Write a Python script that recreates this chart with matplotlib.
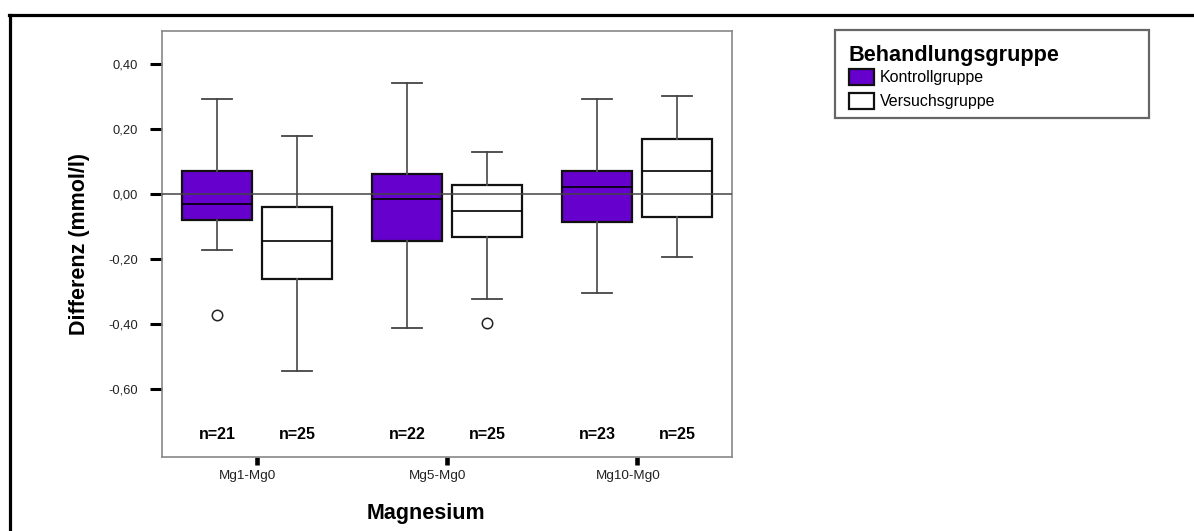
import numpy as np
import matplotlib
matplotlib.use('Agg')
import matplotlib.pyplot as plt
import matplotlib.transforms as mtransforms
from matplotlib.patches import Patch, Rectangle
from matplotlib.lines import Line2D

plt.rcParams['font.family'] = ['Liberation Sans', 'DejaVu Sans']

groups = ['Mg1-Mg0', 'Mg5-Mg0', 'Mg10-Mg0']
series = ['Kontrollgruppe', 'Versuchsgruppe']

# Kontrollgruppe
k_whishi = [0.29, 0.34, 0.29]
k_q3 = [0.069, 0.059, 0.070]
k_med = [-0.033, -0.018, 0.019]
k_q1 = [-0.082, -0.146, -0.088]
k_whislo = [-0.174, -0.414, -0.305]
k_fliers = [[-0.373], [], []]
k_n = [21, 22, 23]

# Versuchsgruppe
v_whishi = [0.177, 0.128, 0.30]
v_q3 = [-0.041, 0.027, 0.167]
v_med = [-0.146, -0.055, 0.069]
v_q1 = [-0.264, -0.132, -0.072]
v_whislo = [-0.546, -0.323, -0.196]
v_fliers = [[], [-0.397], []]
v_n = [25, 25, 25]

yticks = [-0.6, -0.4, -0.2, 0.0, 0.2, 0.4]

purple = '#6600cc'
W, H = 1194, 531
fig = plt.figure(figsize=(W/100, H/100), dpi=100)
ax = fig.add_axes([162/W, 1-457/H, 570/W, 426/H])

def stats(whishi, q3, med, q1, whislo, fliers):
    out = []
    for i in range(len(med)):
        out.append(dict(whishi=whishi[i], q3=q3[i], med=med[i], q1=q1[i],
                        whislo=whislo[i], fliers=fliers[i]))
    return out

x = np.arange(1, len(groups) + 1)
off = 0.21
bw = 0.368
common = dict(widths=bw, patch_artist=True, showfliers=True, capwidths=0.158,
              medianprops=dict(color='black', lw=1.2),
              whiskerprops=dict(color='#555555', lw=1.3),
              capprops=dict(color='#444444', lw=1.3),
              flierprops=dict(marker='o', markerfacecolor='none',
                              markeredgecolor='#222222', markersize=7.5, mew=1.1))

ax.bxp(stats(k_whishi, k_q3, k_med, k_q1, k_whislo, k_fliers), positions=x - off,
       boxprops=dict(facecolor=purple, edgecolor='#111111', lw=1.6), **common)
ax.bxp(stats(v_whishi, v_q3, v_med, v_q1, v_whislo, v_fliers), positions=x + off,
       boxprops=dict(facecolor='white', edgecolor='#111111', lw=1.6), **common)

ax.axhline(0, color='#444444', lw=1.1, zorder=5)

trans = ax.get_xaxis_transform()
for i in range(len(groups)):
    ax.text(x[i] - off, 0.053, 'n=%d' % k_n[i], transform=trans, ha='center', va='center',
            fontsize=11.5, fontweight='bold')
    ax.text(x[i] + off, 0.053, 'n=%d' % v_n[i], transform=trans, ha='center', va='center',
            fontsize=11.5, fontweight='bold')

ax.set_xlim(0.5, 3.5)
ax.set_ylim(-0.81, 0.50)
ax.set_xticks(x)
ax.set_xticklabels(groups)
ax.set_yticks(yticks)
ax.set_yticklabels([('%.2f' % t).replace('.', ',') for t in yticks])
ax.tick_params(axis='y', direction='out', length=8.6, width=2.2, color='black', pad=8.5,
               labelsize=9.3, labelcolor='#222222')
ax.tick_params(axis='x', direction='out', length=5.6, width=3.3, color='black', pad=3.5,
               labelsize=9.7, labelcolor='#222222')
shift = mtransforms.ScaledTranslation(-9/100, 0, fig.dpi_scale_trans)
for lab in ax.get_xticklabels():
    lab.set_transform(lab.get_transform() + shift)
for s in ax.spines.values():
    s.set_color('#888888')
    s.set_linewidth(1.2)

ax.set_xlabel('Magnesium', fontsize=15.5, fontweight='bold', va='center')
ax.xaxis.set_label_coords(0.463, -0.132)
ax.set_ylabel('Differenz (mmol/l)', fontsize=15.5, fontweight='bold', va='center')
ax.yaxis.set_label_coords(-0.144, 0.5)

# outer frame (top and left only)
fig.add_artist(Line2D([10/W, 10/W], [0, 1-15/H], color='black', lw=2.3,
                      transform=fig.transFigure))
fig.add_artist(Line2D([9/W, 1], [1-15/H, 1-15/H], color='black', lw=2.3,
                      transform=fig.transFigure))

# legend
fig.add_artist(Rectangle((835/W, 1-118/H), 314/W, 88/H, transform=fig.transFigure,
                         facecolor='white', edgecolor='#666666', lw=1.6, zorder=1))
handles = [Patch(facecolor=purple, edgecolor='#111111', lw=1.6),
           Patch(facecolor='white', edgecolor='#111111', lw=1.6)]
leg = fig.legend(handles, series, loc='upper left',
                 bbox_to_anchor=(849/W, 1-45/H),
                 title='Behandlungsgruppe', alignment='left',
                 title_fontproperties=dict(weight='bold', size=15.6),
                 fontsize=11.5, handlelength=1.56, handleheight=1.15, handletextpad=0.38,
                 labelspacing=0.5, borderpad=0, borderaxespad=0, frameon=False)
leg._legend_box.sep = 2
leg.set_zorder(2)

fig.savefig('out.png', dpi=100)
